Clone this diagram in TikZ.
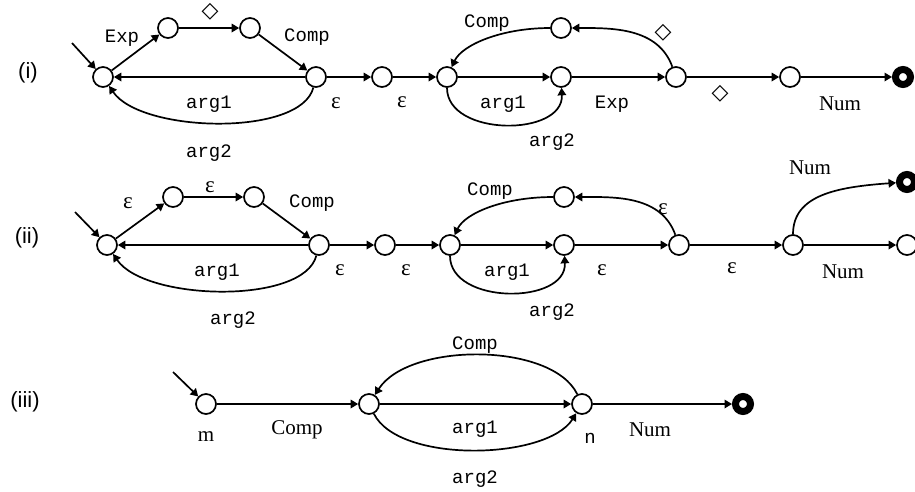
\documentclass[tikz,border=0pt]{standalone}
\usepackage{fontspec}
\setmainfont{Liberation Serif}
\newfontfamily\monof{Liberation Mono}
\newfontfamily\sansf{Liberation Sans}
\newfontfamily\symf{DejaVu Sans}
\usetikzlibrary{arrows.meta}
\tikzset{
 st/.style={circle, draw, fill=white, line width=1.7pt, minimum size=20pt, inner sep=0pt},
 fin/.style={circle, draw, line width=7pt, minimum size=15pt, inner sep=0pt},
 ed/.style={line width=1.7pt, -{Triangle[length=7.5pt,width=8.5pt]}},
 ml/.style={font=\monof\fontsize{19}{19}\selectfont, inner sep=0pt},
 sl/.style={font=\fontsize{21}{21}\selectfont, inner sep=0pt},
 el/.style={font=\fontsize{23}{23}\selectfont, inner sep=0pt},
 dl/.style={font=\symf\fontsize{22}{22}\selectfont, inner sep=0pt, text height=14pt, text depth=0pt},
 rl/.style={font=\sansf\fontsize{22}{22}\selectfont, inner sep=0pt}
}
\begin{document}
\begin{tikzpicture}[x=1pt,y=-1pt]
\useasboundingbox (0,0) rectangle (915,491);
% ---------- row (i)
\node[rl] (ri) at (28,73) {(i)};
\coordinate (s1) at (72,43);
\node[st] (A1) at (103,77) {};
\node[st] (A2) at (168,28) {};
\node[st] (A3) at (250,28) {};
\node[st] (A4) at (316,77) {};
\node[st] (A5) at (382,77) {};
\node[st] (A6) at (447,77) {};
\node[st] (A7) at (561,28) {};
\node[st] (A8) at (561,77) {};
\node[st] (A9) at (676,77) {};
\node[st] (A10) at (790,77) {};
\node[fin] (A11) at (903,77) {};
\draw[ed] (s1) -- (A1);
\draw[ed] (A1) -- (A2);
\draw[ed] (A2) -- (A3);
\draw[ed] (A3) -- (A4);
\draw[ed] (A4) -- (A1);
\draw[ed] (A4) .. controls +(-15,60) and +(38,56) .. (A1);
\draw[ed] (A4) -- (A5);
\draw[ed] (A5) -- (A6);
\draw[ed] (A6) -- (A8);
\draw[ed] (A6) .. controls +(0,60) and +(3,60) .. (A8);
\draw[ed] (A8) -- (A9);
\draw[ed] (A9) .. controls +(-18,-50) and +(50,0) .. (A7);
\draw[ed] (A7) .. controls +(-60,0) and +(15,-32) .. (A6);
\draw[ed] (A9) -- (A10);
\draw[ed] (A10) -- (A11);
\node[ml] (la1) at (122,38) {Exp};
\node[dl] (la2) at (210,10) {◇};
\node[ml] (la3) at (307,37) {Comp};
\node[ml] (la4) at (209,104) {arg1};
\node[ml] (la5) at (209,153) {arg2};
\node[el] (la6) at (336,103) {ε};
\node[el] (la7) at (402,102) {ε};
\node[ml] (la8) at (487,23) {Comp};
\node[ml] (la9) at (503,104) {arg1};
\node[ml] (la10) at (552,142) {arg2};
\node[ml] (la11) at (612,104) {Exp};
\node[dl] (la12) at (663,31) {◇};
\node[dl] (la13) at (720,92) {◇};
\node[sl] (la14) at (840,104) {Num};
% ---------- row (ii)
\node[rl] (rii) at (27,238) {(ii)};
\coordinate (s2) at (75,212);
\node[st] (B1) at (107,245) {};
\node[st] (B2) at (173,197) {};
\node[st] (B3) at (254,197) {};
\node[st] (B4) at (319,245) {};
\node[st] (B5) at (385,245) {};
\node[st] (B6) at (450,245) {};
\node[st] (B7) at (564,197) {};
\node[st] (B8) at (564,245) {};
\node[st] (B9) at (679,245) {};
\node[st] (B10) at (793,245) {};
\node[fin] (B11) at (907,182) {};
\node[st] (B12) at (907,245) {};
\draw[ed] (s2) -- (B1);
\draw[ed] (B1) -- (B2);
\draw[ed] (B2) -- (B3);
\draw[ed] (B3) -- (B4);
\draw[ed] (B4) -- (B1);
\draw[ed] (B4) .. controls +(-15,60) and +(38,56) .. (B1);
\draw[ed] (B4) -- (B5);
\draw[ed] (B5) -- (B6);
\draw[ed] (B6) -- (B8);
\draw[ed] (B6) .. controls +(0,60) and +(3,60) .. (B8);
\draw[ed] (B8) -- (B9);
\draw[ed] (B9) .. controls +(-18,-50) and +(50,0) .. (B7);
\draw[ed] (B7) .. controls +(-60,0) and +(15,-32) .. (B6);
\draw[ed] (B9) -- (B10);
\draw[ed] (B10) .. controls +(0,-50) and +(-70,5) .. (B11);
\draw[ed] (B10) -- (B12);
\node[el] (lb1) at (128,203) {ε};
\node[el] (lb2) at (210,187) {ε};
\node[ml] (lb3) at (312,203) {Comp};
\node[ml] (lb4) at (217,272) {arg1};
\node[ml] (lb5) at (233,320) {arg2};
\node[el] (lb6) at (340,270) {ε};
\node[el] (lb7) at (406,270) {ε};
\node[ml] (lb8) at (490,191) {Comp};
\node[ml] (lb9) at (507,272) {arg1};
\node[ml] (lb10) at (552,312) {arg2};
\node[el] (lb11) at (602,270) {ε};
\node[el] (lb12) at (663,209) {ε};
\node[el] (lb13) at (732,268) {ε};
\node[sl] (lb14) at (810,168) {Num};
\node[sl] (lb15) at (843,272) {Num};
% ---------- row (iii)
\node[rl] (riii) at (25,402) {(iii)};
\coordinate (s3) at (173,372);
\node[st] (C1) at (206,404) {};
\node[st] (C2) at (369,404) {};
\node[st] (C3) at (582,404) {};
\node[fin] (C4) at (743,404) {};
\draw[ed] (s3) -- (C1);
\draw[ed] (C1) -- (C2);
\draw[ed] (C3) .. controls +(-30,-62) and +(40,-62) .. (C2);
\draw[ed] (C2) -- (C3);
\draw[ed] (C2) .. controls +(30,60) and +(-35,56) .. (C3);
\draw[ed] (C3) -- (C4);
\node[sl] (lc1) at (206,437) {m};
\node[sl] (lc2) at (297,430) {Comp};
\node[ml] (lc3) at (475,345) {Comp};
\node[ml] (lc4) at (475,429) {arg1};
\node[ml] (lc5) at (475,479) {arg2};
\node[ml] (lc6) at (590,438) {n};
\node[sl] (lc7) at (650,430) {Num};
\end{tikzpicture}
\end{document}
